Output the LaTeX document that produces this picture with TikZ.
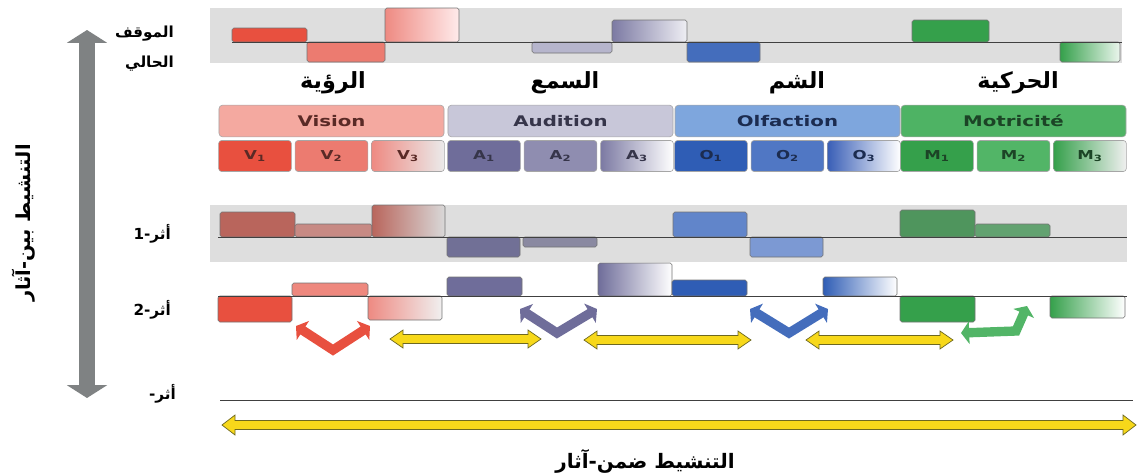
\documentclass[tikz,border=0pt]{standalone}
\usepackage{fontspec}
\setmainfont{DejaVu Sans}
\newfontfamily\arabicfont[Script=Arabic]{DejaVu Sans}
\newfontfamily\cellfont[FakeStretch=1.35]{DejaVu Sans}
\TeXXeTstate=1
\usetikzlibrary{arrows.meta,calc}

\definecolor{visH}{HTML}{F4A9A0}
\definecolor{visA}{HTML}{E8503F}
\definecolor{visB}{HTML}{EC7B70}
\definecolor{visC}{HTML}{EE8A82}
\definecolor{visT}{HTML}{5A2A26}
\definecolor{audH}{HTML}{C8C7D9}
\definecolor{audA}{HTML}{6F6D9A}
\definecolor{audB}{HTML}{8F8DB0}
\definecolor{audC}{HTML}{7C7AA3}
\definecolor{audT}{HTML}{36354A}
\definecolor{olfH}{HTML}{7EA6DD}
\definecolor{olfA}{HTML}{2F5DB5}
\definecolor{olfB}{HTML}{5077C4}
\definecolor{olfC}{HTML}{3A5FB7}
\definecolor{olfT}{HTML}{1C2C50}
\definecolor{motH}{HTML}{4EB364}
\definecolor{motA}{HTML}{35A04B}
\definecolor{motB}{HTML}{52B567}
\definecolor{motT}{HTML}{1C4426}
\definecolor{yellowA}{HTML}{F7D81A}
\definecolor{greyArr}{HTML}{7F8283}

\newcommand{\yarrow}[3]{%
  \filldraw[yarr] (#1) -- ($(#1)+(13,-#3)$) -- ($(#1)+(13,-4.5)$) -- ($(#2)+(-13,-4.5)$)
    -- ($(#2)+(-13,-#3)$) -- (#2) -- ($(#2)+(-13,#3)$) -- ($(#2)+(-13,4.5)$)
    -- ($(#1)+(13,4.5)$) -- ($(#1)+(13,#3)$) -- cycle;}

\tikzset{
  blk/.style={draw=black!55, line width=0.5pt, rounded corners=1.5pt},
  hdr/.style={draw=black!35, line width=0.5pt, rounded corners=3pt, minimum width=6.75cm, minimum height=0.95cm, font=\cellfont\bfseries\fontsize{12.5}{13}\selectfont},
  cell/.style={draw=black!35, line width=0.5pt, rounded corners=2.5pt, minimum width=2.18cm, minimum height=0.93cm, font=\cellfont\bfseries\fontsize{10.5}{11}\selectfont},
  band/.style={fill=black!13},
  baseln/.style={draw=black!75, line width=0.8pt},
  arlab/.style={font=\arabicfont\bfseries\fontsize{19}{21}\selectfont},
  sidelab/.style={font=\arabicfont\bfseries\fontsize{13}{15}\selectfont, anchor=east},
  chev/.style={line width=8pt, line join=miter, {Triangle[length=7pt,width=19pt]}-{Triangle[length=7pt,width=19pt]}},
  yarr/.style={fill=yellowA, draw=olive!70!black, line width=0.6pt},
}

\begin{document}
\begin{tikzpicture}[x=0.03cm, y=-0.03cm]
    \useasboundingbox (0,0) rectangle (1137,476);

    \coordinate (vtop) at (87,30);
    \coordinate (vbot) at (87,398);
    \draw [line width=13pt, color=greyArr, {Triangle[length=11pt,width=34pt]}-{Triangle[length=11pt,width=34pt]}] (vtop) -- (vbot);
    \node [rotate=90, font=\arabicfont\bfseries\fontsize{16.5}{18}\selectfont] (inter) at (24,223) {\beginR التنشيط بين-آثار\endR};

    \node [sidelab] (now1) at (178,34) {\beginR الموقف\endR};
    \node [sidelab] (now2) at (178,64) {\beginR الحالي\endR};
    \node [sidelab] (tr1) at (175,234) {\beginR أثر-1\endR};
    \node [sidelab] (tr2) at (175,310) {\beginR أثر-2\endR};
    \node [sidelab] (trn) at (180,394) {\beginR أثر-\endR};

    \fill [band] (210,8) rectangle (1122,63);
    \draw [blk, fill=visA] (232,28) rectangle (307,42);
    \draw [blk, fill=visB] (307,42) rectangle (385,62);
    \draw [blk, left color=visC, right color=red!8] (385,8) rectangle (459,42);
    \draw [blk, fill=audH!80!audA] (532,42) rectangle (612,53);
    \draw [blk, left color=audC, right color=audH!30] (612,20) rectangle (687,42);
    \draw [blk, fill=olfA!90] (687,42) rectangle (760,62);
    \draw [blk, fill=motA] (912,20) rectangle (989,42);
    \draw [blk, left color=motA, right color=motA!10] (1060,42) rectangle (1120,62);
    \draw [baseln] (232,42) -- (1122,42);

    \node [arlab] (lvis) at (333,83) {\beginR الرؤية\endR};
    \node [arlab] (laud) at (565,83) {\beginR السمع\endR};
    \node [arlab] (lolf) at (797,83) {\beginR الشم\endR};
    \node [arlab] (lmot) at (1018,83) {\beginR الحركية\endR};

    \node [hdr, fill=visH, text=visT] (vis) at (331.5,121) {Vision};
    \node [hdr, fill=audH, text=audT] (aud) at (560.5,121) {Audition};
    \node [hdr, fill=olfH, text=olfT] (olf) at (787.5,121) {Olfaction};
    \node [hdr, fill=motH, text=motT] (mot) at (1013.5,121) {Motricité};

    \node [cell, fill=visA, text=visT] (v1) at (255,156) {V\textsubscript{1}};
    \node [cell, fill=visB, text=visT] (v2) at (331.5,156) {V\textsubscript{2}};
    \node [cell, left color=visC, right color=black!8, text=visT] (v3) at (408,156) {V\textsubscript{3}};
    \node [cell, fill=audA, text=audT] (a1) at (484,156) {A\textsubscript{1}};
    \node [cell, fill=audB, text=audT] (a2) at (560.5,156) {A\textsubscript{2}};
    \node [cell, left color=audC, right color=white, text=audT] (a3) at (637,156) {A\textsubscript{3}};
    \node [cell, fill=olfA, text=olfT] (o1) at (711,156) {O\textsubscript{1}};
    \node [cell, fill=olfB, text=olfT] (o2) at (787.5,156) {O\textsubscript{2}};
    \node [cell, left color=olfC, right color=white, text=olfT] (o3) at (864,156) {O\textsubscript{3}};
    \node [cell, fill=motA, text=motT] (m1) at (937,156) {M\textsubscript{1}};
    \node [cell, fill=motB, text=motT] (m2) at (1013.5,156) {M\textsubscript{2}};
    \node [cell, left color=motA, right color=black!6, text=motT] (m3) at (1090,156) {M\textsubscript{3}};

    \fill [band] (210,205) rectangle (1127,262);
    \draw [blk, fill=visA!55!gray] (220,212) rectangle (295,237);
    \draw [blk, fill=visB!60!gray!90] (295,224) rectangle (372,237);
    \draw [blk, left color=visA!55!gray, right color=black!15] (372,205) rectangle (445,237);
    \draw [blk, fill=audA!85!gray] (447,237) rectangle (520,257);
    \draw [blk, fill=audB!70!gray] (523,237) rectangle (597,247);
    \draw [blk, fill=olfB!90] (673,212) rectangle (747,237);
    \draw [blk, fill=olfB!75!white] (750,237) rectangle (823,257);
    \draw [blk, fill=motA!65!gray] (900,210) rectangle (975,237);
    \draw [blk, fill=motB!65!gray] (975,224) rectangle (1050,237);
    \draw [baseln] (218,237) -- (1127,237);

    \draw [blk, fill=visA] (218,296) rectangle (292,322);
    \draw [blk, fill=visB!90!white] (292,283) rectangle (368,296);
    \draw [blk, left color=visC, right color=black!6] (368,296) rectangle (442,320);
    \draw [blk, fill=audA] (447,277) rectangle (522,296);
    \draw [blk, left color=audA, right color=white] (598,263) rectangle (672,296);
    \draw [blk, fill=olfA] (672,280) rectangle (747,296);
    \draw [blk, left color=olfA, right color=white] (823,277) rectangle (897,296);
    \draw [blk, fill=motA] (900,296) rectangle (975,322);
    \draw [blk, left color=motA, right color=white] (1050,296) rectangle (1125,318);
    \draw [baseln] (218,296) -- (1127,296);

    \draw [chev, visA] (296,326) -- (333,350) -- (370,326);
    \draw [chev, audA] (520,309) -- (557,333) -- (597,309);
    \draw [chev, olfA!90] (750,309) -- (789,333) -- (828,309);
    \draw [chev, motB] (961,333) -- (1016,331) -- (1027,306);

    \coordinate (ya1) at (390,339);
    \coordinate (yb1) at (541,339);
    \coordinate (ya2) at (584,340);
    \coordinate (yb2) at (751,340);
    \coordinate (ya3) at (806,340);
    \coordinate (yb3) at (953,340);
    \yarrow{ya1}{yb1}{9}
    \yarrow{ya2}{yb2}{9}
    \yarrow{ya3}{yb3}{9}

    \draw [baseln, line width=0.7pt] (220,400) -- (1133,400);
    \coordinate (ya4) at (222,425);
    \coordinate (yb4) at (1136,425);
    \yarrow{ya4}{yb4}{10}
    \node [font=\arabicfont\bfseries\fontsize{17}{19}\selectfont] (intra) at (645,461) {\beginR التنشيط ضمن-آثار\endR};
\end{tikzpicture}
\end{document}
